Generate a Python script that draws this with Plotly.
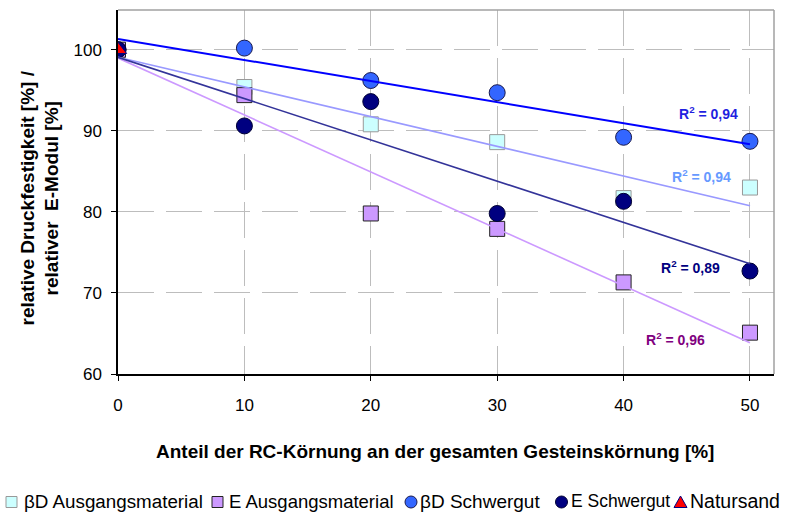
import numpy as np
import plotly.graph_objects as go

# ---------------- data ----------------
x_vals = [0, 10, 20, 30, 40, 50]
bd_ausgang = [100, 95.4, 90.8, 88.6, 81.7, 83.0]
e_ausgang = [100, 94.4, 79.8, 77.9, 71.3, 65.1]
bd_schwer = [100, 100.2, 96.2, 94.7, 89.2, 88.7]
e_schwer = [100, 90.6, 93.6, 79.8, 81.3, 72.7]
natursand_x = [0]
natursand_y = [100]

r2_labels = ["R<sup>2</sup> = 0,94", "R<sup>2</sup> = 0,94", "R<sup>2</sup> = 0,89", "R<sup>2</sup> = 0,96"]
r2_pos_x = [46.7, 46.2, 45.3, 44.1]
r2_pos_y = [92.25, 84.4, 73.2, 64.3]

x_ticks = [0, 10, 20, 30, 40, 50]
y_ticks = [60, 70, 80, 90, 100]

x_title = "Anteil der RC-Körnung an der gesamten Gesteinskörnung [%]"
y_title = "relative Druckfestigkeit [%] /<br>relativer  E-Modul [%]"

legend_names = ["βD Ausgangsmaterial", "E Ausgangsmaterial", "βD Schwergut", "E Schwergut", "Natursand"]

# ---------------- styles ----------------
FONT = "Liberation Sans, Arial, sans-serif"
W, H = 787, 512
ML, MR, MT, MB = 118, 13, 10, 138
PW = W - ML - MR
PH = H - MT - MB


def px2x(px):
    return (px - ML) / PW


def py2y(py):
    return (H - MB - py) / PH


series = [
    dict(name=legend_names[0], y=bd_ausgang, symbol="square", size=15, fill="#CCFFFF", line="#999999", trend="#9999FF", tw=1.6),
    dict(name=legend_names[1], y=e_ausgang, symbol="square", size=15, fill="#CC99FF", line="#222222", trend="#CC99FF", tw=1.6),
    dict(name=legend_names[2], y=bd_schwer, symbol="circle", size=16, fill="#3366FF", line="#1a1a4d", trend="#0000FF", tw=2),
    dict(name=legend_names[3], y=e_schwer, symbol="circle", size=16, fill="#000080", line="#000033", trend="#333399", tw=1.6),
]

fig = go.Figure()

for s in series:
    fig.add_trace(go.Scatter(
        x=x_vals, y=s["y"], mode="markers", name=s["name"], showlegend=False,
        marker=dict(symbol=s["symbol"], size=s["size"], color=s["fill"],
                    line=dict(color=s["line"], width=1)),
    ))

# trend lines (linear regression of each series)
for s in series:
    k, d = np.polyfit(np.array(x_vals, float), np.array(s["y"], float), 1)
    xs = [min(x_vals), max(x_vals)]
    fig.add_trace(go.Scatter(
        x=xs, y=[k * v + d for v in xs], mode="lines", showlegend=False,
        line=dict(color=s["trend"], width=s["tw"]), hoverinfo="skip",
    ))

fig.add_trace(go.Scatter(
    x=natursand_x, y=natursand_y, mode="markers", name=legend_names[4], showlegend=False,
    marker=dict(symbol="triangle-up", size=15, color="#FF0000", line=dict(color="#000080", width=1)),
))

r2_colors = ["#1f1fe0", "#6699FF", "#000080", "#800080"]
annotations = []
for t, xx, yy, c in zip(r2_labels, r2_pos_x, r2_pos_y, r2_colors):
    annotations.append(dict(x=xx, y=yy, xref="x", yref="y", text=t, showarrow=False,
                            font=dict(family=FONT, size=14, color=c, weight="bold")))

annotations.append(dict(x=px2x(435), y=py2y(452), xref="paper", yref="paper", text=x_title,
                        showarrow=False, xanchor="center", yanchor="middle",
                        font=dict(family=FONT, size=19, color="#000000", weight="bold")))
annotations.append(dict(x=px2x(40), y=py2y(198.5), xref="paper", yref="paper", text=y_title,
                        showarrow=False, xanchor="center", yanchor="middle", textangle=-90,
                        font=dict(family=FONT, size=19, color="#000000", weight="bold")))

# custom legend
shapes = []
leg_y = 502
leg_sym_x = [11.5, 217.5, 411, 561.5, 680.5]
leg_txt_x = [22, 227, 418, 569, 688]
leg_txt_size = [18.8, 18.5, 19, 17.5, 19.5]
sym_specs = [
    ("rect", "#CCFFFF", "#999999"),
    ("rect", "#CC99FF", "#222222"),
    ("circle", "#3366FF", "#1a1a4d"),
    ("circle", "#000080", "#000033"),
    ("tri", "#FF0000", "#000080"),
]
for (kind, fc, lc), sx, tx, fs, name in zip(sym_specs, leg_sym_x, leg_txt_x, leg_txt_size, legend_names):
    if kind == "rect":
        shapes.append(dict(type="rect", xref="paper", yref="paper", xsizemode="pixel", ysizemode="pixel",
                           xanchor=px2x(sx), yanchor=py2y(leg_y), x0=-5.5, x1=5.5, y0=-5.5, y1=5.5,
                           fillcolor=fc, line=dict(color=lc, width=1)))
    elif kind == "circle":
        shapes.append(dict(type="circle", xref="paper", yref="paper", xsizemode="pixel", ysizemode="pixel",
                           xanchor=px2x(sx), yanchor=py2y(leg_y), x0=-6, x1=6, y0=-6, y1=6,
                           fillcolor=fc, line=dict(color=lc, width=1)))
    else:
        shapes.append(dict(type="path", xref="paper", yref="paper", xsizemode="pixel", ysizemode="pixel",
                           xanchor=px2x(sx), yanchor=py2y(leg_y), path="M -6.5 -5.5 L 6.5 -5.5 L 0 6 Z",
                           fillcolor=fc, line=dict(color=lc, width=1)))
    annotations.append(dict(x=px2x(tx), y=py2y(leg_y - 1), xref="paper", yref="paper", text=name,
                            showarrow=False, xanchor="left", yanchor="middle",
                            font=dict(family=FONT, size=fs, color="#000000")))

# top and right plot border (grey)
shapes.append(dict(type="line", xref="paper", yref="paper", x0=0, x1=1, y0=1, y1=1,
                   line=dict(color="#A0A0A0", width=1.5)))
shapes.append(dict(type="line", xref="paper", yref="paper", x0=1, x1=1, y0=0, y1=1,
                   line=dict(color="#A0A0A0", width=1.5)))

fig.update_layout(
    width=W, height=H,
    margin=dict(l=ML, r=MR, t=MT, b=MB, pad=0),
    paper_bgcolor="#FFFFFF", plot_bgcolor="#FFFFFF",
    showlegend=False,
    annotations=annotations, shapes=shapes,
    font=dict(family=FONT, color="#000000"),
)
fig.update_xaxes(
    range=[0, 51.9], tickvals=x_ticks, ticks="outside", ticklen=5, tickcolor="#000000",
    showline=True, linecolor="#000000", linewidth=1.5,
    showgrid=True, gridcolor="#BDBDBD", gridwidth=1, griddash="36px,12px",
    zeroline=False, tickfont=dict(family=FONT, size=17, color="#000000"), ticklabelstandoff=10,
)
fig.update_yaxes(
    range=[60, 104.9], tickvals=y_ticks, ticks="outside", ticklen=5, tickcolor="#000000",
    showline=True, linecolor="#000000", linewidth=1.5,
    showgrid=True, gridcolor="#BDBDBD", gridwidth=1, griddash="36px,12px",
    zeroline=False, tickfont=dict(family=FONT, size=17, color="#000000"), ticklabelstandoff=6,
)

fig.write_html("out.html", config={"displayModeBar": False},
               post_script="document.body.style.margin='0px';")
